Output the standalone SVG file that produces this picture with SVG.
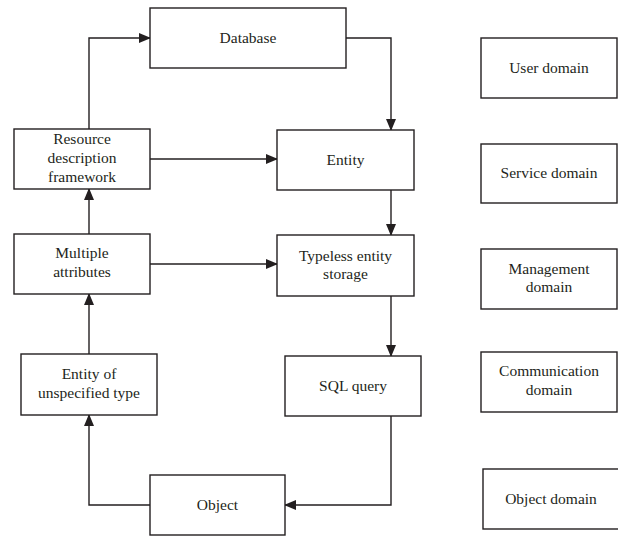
<svg xmlns="http://www.w3.org/2000/svg" width="618" height="537" viewBox="0 0 618 537">
<style>
.box{fill:#fff;stroke:#231f20;stroke-width:1.4}
.t{font-family:"Liberation Serif",serif;font-size:15.5px;fill:#231f20;text-anchor:middle}
.c{fill:none;stroke:#231f20;stroke-width:1.4;marker-end:url(#ah)}
</style>
<defs>
<marker id="ah" markerWidth="12" markerHeight="10" refX="11" refY="5" orient="auto" markerUnits="userSpaceOnUse">
<path d="M0,0 L12,5 L0,10 Z" fill="#231f20"/>
</marker>
</defs>
<rect width="618" height="537" fill="#fff"/>
<g id="connectors">
<path class="c" d="M89,129 V38 H150"/>
<path class="c" d="M346,38 H391 V130"/>
<path class="c" d="M150,159 H277"/>
<path class="c" d="M89,234 V189"/>
<path class="c" d="M391,190 V235"/>
<path class="c" d="M150,264 H277"/>
<path class="c" d="M89,354 V294"/>
<path class="c" d="M391,296 V356"/>
<path class="c" d="M391,416 V505 H285"/>
<path class="c" d="M150,505 H89 V415"/>
</g>
<g id="database"><rect class="box" x="150" y="8" width="196" height="60"/><text class="t" x="248" y="43">Database</text></g>
<g id="rdf"><rect class="box" x="14" y="129" width="136" height="60"/><text class="t" x="82" y="144">Resource</text><text class="t" x="82" y="163">description</text><text class="t" x="82" y="182">framework</text></g>
<g id="entity"><rect class="box" x="277" y="130" width="137" height="60"/><text class="t" x="345.5" y="165">Entity</text></g>
<g id="multiple"><rect class="box" x="14" y="234" width="136" height="60"/><text class="t" x="82" y="258">Multiple</text><text class="t" x="82" y="277">attributes</text></g>
<g id="typeless"><rect class="box" x="277" y="235" width="137" height="61"/><text class="t" x="345.5" y="261">Typeless entity</text><text class="t" x="345.5" y="279">storage</text></g>
<g id="unspecified"><rect class="box" x="21" y="354" width="136" height="61"/><text class="t" x="89" y="379">Entity of</text><text class="t" x="89" y="398">unspecified type</text></g>
<g id="sql"><rect class="box" x="285" y="356" width="136" height="60"/><text class="t" x="353" y="391">SQL query</text></g>
<g id="object"><rect class="box" x="150" y="475" width="135" height="60"/><text class="t" x="217.5" y="510">Object</text></g>
<g id="user"><rect class="box" x="481" y="38" width="136" height="60"/><text class="t" x="549" y="73">User domain</text></g>
<g id="service"><rect class="box" x="481" y="144" width="136" height="59"/><text class="t" x="549" y="178">Service domain</text></g>
<g id="management"><rect class="box" x="481" y="249" width="136" height="60"/><text class="t" x="549" y="274">Management</text><text class="t" x="549" y="292">domain</text></g>
<g id="communication"><rect class="box" x="481" y="352" width="136" height="60"/><text class="t" x="549" y="376">Communication</text><text class="t" x="549" y="395">domain</text></g>
<g id="objectdomain"><rect class="box" x="483" y="469" width="136" height="60"/><text class="t" x="551" y="504">Object domain</text></g>
</svg>
